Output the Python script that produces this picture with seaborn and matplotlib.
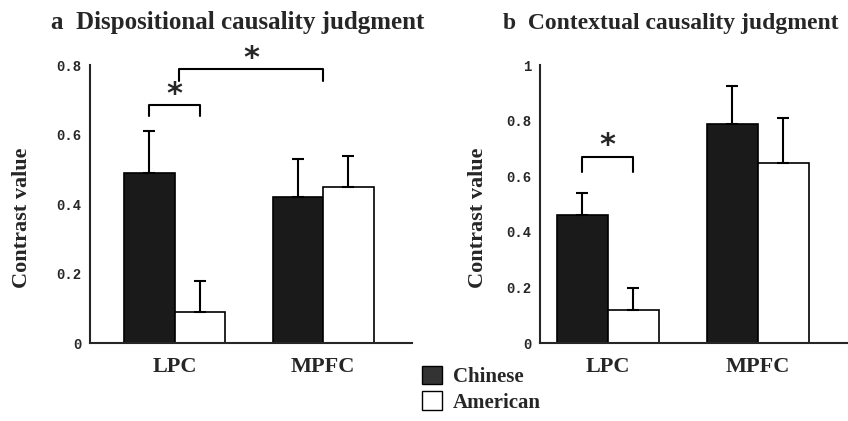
import matplotlib
matplotlib.use('Agg')
import matplotlib.pyplot as plt
import pandas as pd
import seaborn as sns
from matplotlib.patches import Patch

# Data
regions = ['LPC', 'MPFC']
groups = ['Chinese', 'American']
disp_chinese = [0.49, 0.42]
disp_american = [0.09, 0.45]
disp_chinese_err = [0.12, 0.11]
disp_american_err = [0.09, 0.09]
ctx_chinese = [0.46, 0.79]
ctx_american = [0.12, 0.65]
ctx_chinese_err = [0.08, 0.135]
ctx_american_err = [0.08, 0.16]
colors = {'Chinese': '#1a1a1a', 'American': 'white'}

serif = 'Liberation Serif'


def make_df(chinese, american, chinese_err, american_err):
    rows = []
    for i, r in enumerate(regions):
        rows.append({'region': r, 'group': 'Chinese', 'value': chinese[i], 'err': chinese_err[i]})
        rows.append({'region': r, 'group': 'American', 'value': american[i], 'err': american_err[i]})
    return pd.DataFrame(rows)


def bar_centers(ax):
    # seaborn draws hue levels in order: all Chinese bars first, then American
    pts = [p for p in ax.patches if p.get_height() > 0]
    centers = {}
    k = 0
    for g in groups:
        for r in regions:
            p = pts[k]
            centers[(r, g)] = p.get_x() + p.get_width() / 2
            k += 1
    return centers


def draw_panel(ax, df, ymax, yticks, yticklabels, title, xlim, title_size):
    sns.barplot(data=df, x='region', y='value', hue='group', hue_order=groups,
                palette=colors, edgecolor='black', linewidth=1.2, width=0.68,
                errorbar=None, legend=False, ax=ax)
    c = bar_centers(ax)
    for _, row in df.iterrows():
        x = c[(row['region'], row['group'])]
        ax.errorbar(x, row['value'], yerr=[[0], [row['err']]], fmt='none',
                    ecolor='black', elinewidth=1.5, capsize=4, capthick=1.5)
    ax.set_ylim(0, ymax)
    ax.set_xlim(*xlim)
    ax.set_yticks(yticks)
    ax.set_yticklabels(yticklabels, family='Liberation Mono', fontsize=10, fontweight='bold')
    ax.tick_params(axis='y', direction='in', length=5, width=1.5, pad=6)
    ax.tick_params(axis='x', length=0, pad=10)
    for lab in ax.get_xticklabels():
        lab.set_family(serif)
        lab.set_fontweight('bold')
        lab.set_fontsize(16)
    ax.set_xlabel('')
    ax.set_ylabel('Contrast value', family=serif, fontweight='bold', fontsize=16)
    ax.spines['top'].set_visible(False)
    ax.spines['right'].set_visible(False)
    ax.spines['left'].set_linewidth(1.5)
    ax.spines['bottom'].set_linewidth(1.5)
    ax.set_title(title, family=serif, fontweight='bold', fontsize=title_size, loc='left', x=-0.12, y=1.1)
    return c


def bracket(ax, x1, x2, y, drop, star_pad):
    ax.plot([x1, x1, x2, x2], [y - drop, y, y, y - drop], color='black', lw=1.5, clip_on=False)
    ax.text((x1 + x2) / 2, y + star_pad, '*', ha='center', va='center', fontsize=22,
            fontweight='bold', family='DejaVu Sans')


sns.set_style('white')
fig = plt.figure(figsize=(8.48, 4.21), dpi=100)
ax1 = fig.add_axes([0.106, 0.185, 0.38, 0.66])
ax2 = fig.add_axes([0.637, 0.185, 0.363, 0.66])

df_a = make_df(disp_chinese, disp_american, disp_chinese_err, disp_american_err)
df_b = make_df(ctx_chinese, ctx_american, ctx_chinese_err, ctx_american_err)

ca = draw_panel(ax1, df_a, 0.8, [0, 0.2, 0.4, 0.6, 0.8], ['0', '0.2', '0.4', '0.6', '0.8'],
                'a  Dispositional causality judgment', (-0.57, 1.6), 18)
cb = draw_panel(ax2, df_b, 1.0, [0, 0.2, 0.4, 0.6, 0.8, 1.0], ['0', '0.2', '0.4', '0.6', '0.8', '1'],
                'b  Contextual causality judgment', (-0.45, 1.6), 17)
ax1.yaxis.set_label_coords(-0.18, 0.45)
ax2.yaxis.set_label_coords(-0.17, 0.45)

bracket(ax1, ca[('LPC', 'Chinese')], ca[('LPC', 'American')], 0.685, 0.03, 0.03)
bracket(ax1, 0.03, 1.0, 0.79, 0.035, 0.03)
bracket(ax2, cb[('LPC', 'Chinese')], cb[('LPC', 'American')], 0.67, 0.055, 0.04)

handles = [Patch(facecolor='#333333', edgecolor='black', label='Chinese'),
           Patch(facecolor='white', edgecolor='black', label='American')]
fig.legend(handles=handles, loc='lower left', bbox_to_anchor=(0.475, -0.025), frameon=False,
           prop={'family': serif, 'weight': 'bold', 'size': 15}, handlelength=1.0,
           handleheight=1.0, handletextpad=0.5, labelspacing=0.2)

fig.savefig('out.png', dpi=100)
